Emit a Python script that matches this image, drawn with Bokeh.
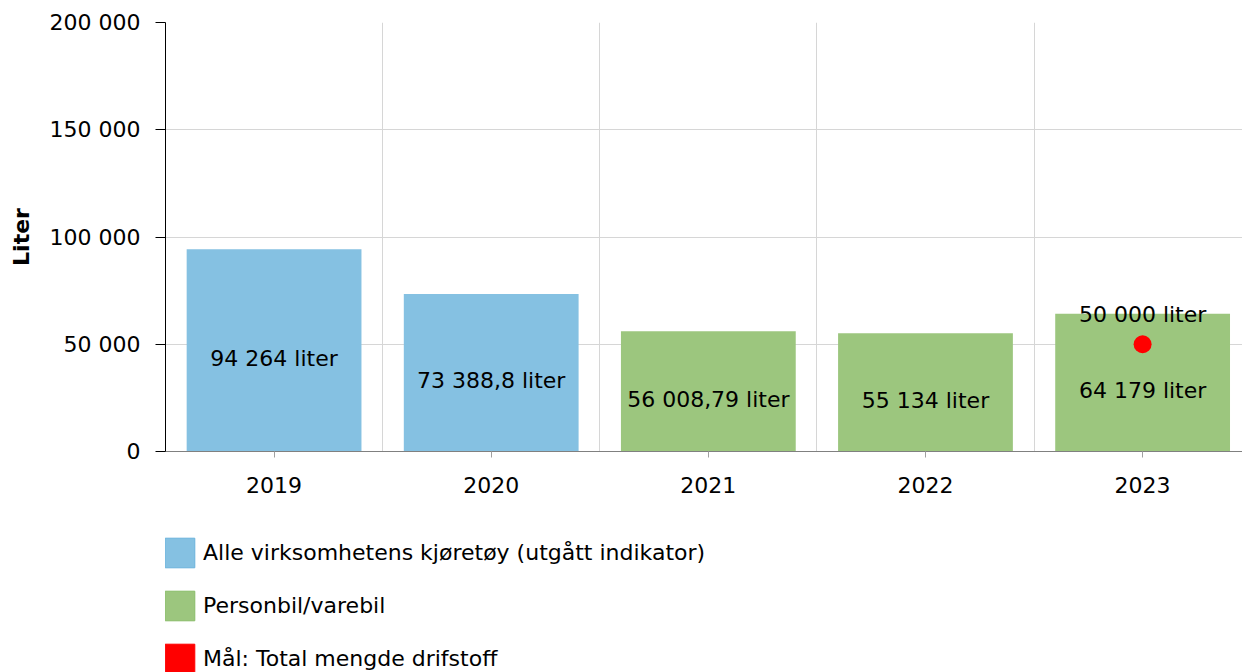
from bokeh.plotting import figure
from bokeh.models import (Range1d, FixedTicker, Legend, LegendItem, ColumnDataSource,
                          CustomJSTickFormatter)
from bokeh.layouts import column
from bokeh.core.properties import value
from bokeh.embed import file_html
from bokeh.resources import INLINE

years = ["2019", "2020", "2021", "2022", "2023"]
series_names = ["Alle virksomhetens kjøretøy (utgått indikator)", "Personbil/varebil",
                "Mål: Total mengde drifstoff"]
all_vehicles = [94264, 73388.8, None, None, None]
car_van = [None, None, 56008.79, 55134, 64179]
value_labels = ["94 264 liter", "73 388,8 liter", "56 008,79 liter", "55 134 liter", "64 179 liter"]
target_year = "2023"
target_value = 50000
target_label = "50 000 liter"
y_ticks = [0, 50000, 100000, 150000, 200000]

FONT = "DejaVu Sans"
FS = "22px"
BLUE = "#85c1e2"
BLUE_EDGE = "#6ab3dc"
GREEN = "#9cc67e"
GREEN_EDGE = "#89bd68"
RED = "#ff0000"

xpos = {y: i + 0.5 for i, y in enumerate(years)}

p = figure(width=1242, height=508, output_backend="svg", toolbar_location=None,
           x_range=Range1d(0, 4.96), y_range=Range1d(0, 200000),
           min_border_left=165, min_border_right=0, min_border_top=22, min_border_bottom=57)
p.outline_line_color = None

blue_x = [xpos[y] for y, v in zip(years, all_vehicles) if v is not None]
blue_v = [v for v in all_vehicles if v is not None]
green_x = [xpos[y] for y, v in zip(years, car_van) if v is not None]
green_v = [v for v in car_van if v is not None]

p.vbar(x=blue_x, top=blue_v, width=0.805, fill_color=BLUE, line_color=None)
p.vbar(x=green_x, top=green_v, width=0.805, fill_color=GREEN, line_color=None)

vals = [a if a is not None else b for a, b in zip(all_vehicles, car_van)]
src = ColumnDataSource(dict(x=[xpos[y] for y in years], y=[v / 2 for v in vals], t=value_labels))
p.text(x="x", y="y", text="t", source=src, text_align="center", text_baseline="middle",
       y_offset=8, text_font=value(FONT), text_font_size=FS, text_color="#000000")

p.scatter(x=[xpos[target_year]], y=[target_value], size=18, fill_color=RED, line_color=None)
p.text(x=[xpos[target_year]], y=[target_value], text=[target_label], text_align="center",
       text_baseline="middle", y_offset=-30, text_font=value(FONT), text_font_size=FS,
       text_color="#000000")

xa = p.xaxis[0]
xa.ticker = FixedTicker(ticks=[xpos[y] for y in years])
xa.major_label_overrides = {xpos[y]: y for y in years}
xa.axis_line_color = "#808080"
xa.major_tick_line_color = "#a0a0a0"
xa.major_tick_out = 6
xa.major_tick_in = 0
xa.minor_tick_line_color = None
xa.major_label_standoff = 19
xa.major_label_text_font = FONT
xa.major_label_text_font_size = FS
xa.major_label_text_color = "#000000"

ya = p.yaxis[0]
ya.ticker = FixedTicker(ticks=y_ticks)
ya.formatter = CustomJSTickFormatter(code="return tick.toFixed(0).replace(/\\B(?=(\\d{3})+(?!\\d))/g, ' ');")
ya.axis_line_color = "#000000"
ya.major_tick_line_color = "#000000"
ya.major_tick_out = 10
ya.major_tick_in = 0
ya.minor_tick_line_color = None
ya.major_label_standoff = 15
ya.major_label_text_font = FONT
ya.major_label_text_font_size = FS
ya.major_label_text_color = "#000000"
ya.axis_label = "Liter"
ya.axis_label_text_font = FONT
ya.axis_label_text_font_size = FS
ya.axis_label_text_font_style = "bold"
ya.axis_label_text_color = "#000000"
ya.axis_label_standoff = 13

p.ygrid.grid_line_color = "#d6d6d6"
p.ygrid.ticker = FixedTicker(ticks=y_ticks)
p.xgrid.grid_line_color = "#d6d6d6"
p.xgrid.ticker = FixedTicker(ticks=[i for i in range(1, len(years))])

# legend figure
q = figure(width=1242, height=164, output_backend="svg", toolbar_location=None,
           x_range=Range1d(0, 1), y_range=Range1d(0, 1),
           min_border_left=0, min_border_right=0, min_border_top=0, min_border_bottom=0)
q.axis.visible = False
q.grid.visible = False
q.outline_line_color = None
r1 = q.vbar(x=[5], top=[5], bottom=[4], width=0.1, fill_color=BLUE, line_color=BLUE_EDGE)
r2 = q.vbar(x=[5], top=[5], bottom=[4], width=0.1, fill_color=GREEN, line_color=GREEN_EDGE)
r3 = q.vbar(x=[5], top=[5], bottom=[4], width=0.1, fill_color=RED, line_color=RED)
legend = Legend(items=[LegendItem(label=series_names[0], renderers=[r1]),
                       LegendItem(label=series_names[1], renderers=[r2]),
                       LegendItem(label=series_names[2], renderers=[r3])],
                location=(-4, -5), orientation="vertical",
                glyph_width=37, glyph_height=37, label_height=37,
                spacing=16, padding=0, margin=0, label_standoff=5,
                label_text_font=FONT, label_text_font_size=FS, label_text_color="#000000",
                border_line_color=None, background_fill_alpha=0)
q.add_layout(legend, "center")

layout = column(p, q, spacing=0)
open("out.html", "w").write(file_html(layout, INLINE))
